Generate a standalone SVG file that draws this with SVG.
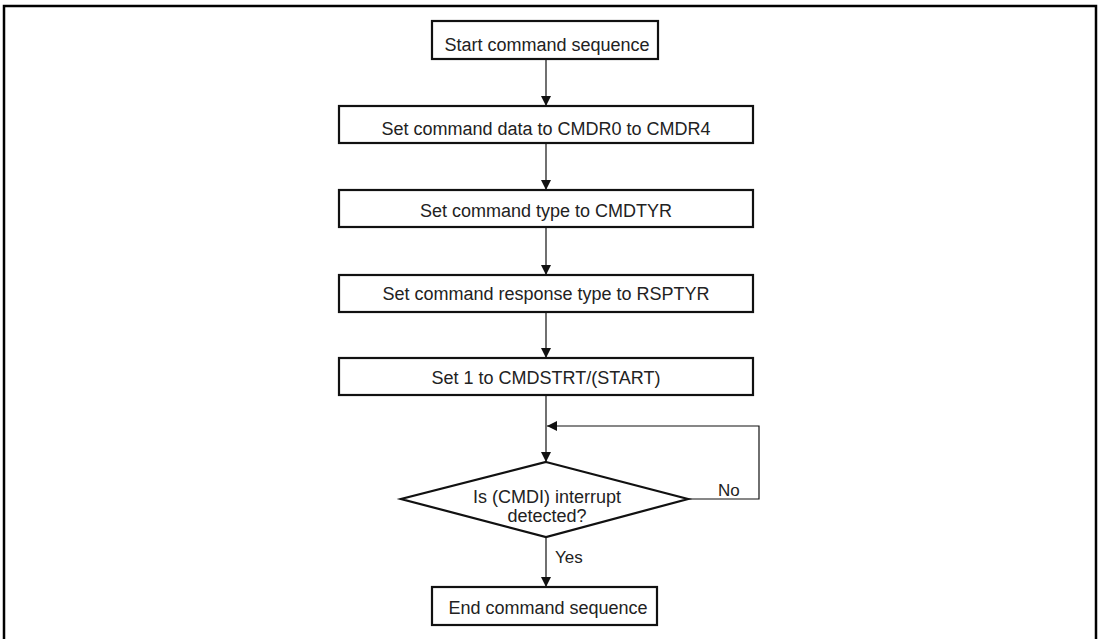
<svg xmlns="http://www.w3.org/2000/svg" width="1100" height="639" viewBox="0 0 1100 639">
<style>
.box{fill:#fff;stroke:#111;stroke-width:2.2}
.t{font-family:"Liberation Sans",Arial,sans-serif;font-size:18px;fill:#222;text-anchor:middle}
.lbl{font-family:"Liberation Sans",Arial,sans-serif;font-size:17px;fill:#222}
.c{fill:none;stroke:#111;stroke-width:1.2}
</style>
<defs>
<marker id="ah" viewBox="0 0 10 10" refX="10" refY="5" markerWidth="10" markerHeight="10" markerUnits="userSpaceOnUse" orient="auto">
<path d="M0,0 L10,5 L0,10 Z" fill="#111"/>
</marker>
</defs>
<rect width="1100" height="639" fill="#fff"/>
<path d="M4,645 V6 H1096 V645" fill="none" stroke="#000" stroke-width="2.5"/>
<g id="connectors">
<line class="c" x1="546" y1="59" x2="546" y2="106" marker-end="url(#ah)"/>
<line class="c" x1="546" y1="143" x2="546" y2="190" marker-end="url(#ah)"/>
<line class="c" x1="546" y1="227" x2="546" y2="275" marker-end="url(#ah)"/>
<line class="c" x1="546" y1="312" x2="546" y2="358" marker-end="url(#ah)"/>
<line class="c" x1="546" y1="395" x2="546" y2="462" marker-end="url(#ah)"/>
<polyline class="c" points="688,499 759,499 759,426 547,426" marker-end="url(#ah)"/>
<line class="c" x1="546" y1="537" x2="546" y2="587" marker-end="url(#ah)"/>
<text class="lbl" x="718" y="496">No</text>
<text class="lbl" x="555" y="563">Yes</text>
</g>
<g id="start">
<rect class="box" x="432" y="21" width="226" height="38"/>
<text class="t" x="547" y="51">Start command sequence</text>
</g>
<g id="set-data">
<rect class="box" x="339" y="106" width="414" height="37"/>
<text class="t" x="546" y="135">Set command data to CMDR0 to CMDR4</text>
</g>
<g id="set-type">
<rect class="box" x="339" y="190" width="414" height="37"/>
<text class="t" x="546" y="216.5">Set command type to CMDTYR</text>
</g>
<g id="set-resp">
<rect class="box" x="339" y="275" width="414" height="37"/>
<text class="t" x="546" y="300">Set command response type to RSPTYR</text>
</g>
<g id="set-start">
<rect class="box" x="339" y="358" width="414" height="37"/>
<text class="t" x="546" y="383.5">Set 1 to CMDSTRT/(START)</text>
</g>
<g id="decision">
<polygon class="box" points="546,462 688,499 546,537 401,499"/>
<text class="t" x="547" y="502.5">Is (CMDI) interrupt</text>
<text class="t" x="547" y="522">detected?</text>
</g>
<g id="end">
<rect class="box" x="432" y="587" width="225" height="38"/>
<text class="t" x="548" y="614">End command sequence</text>
</g>
</svg>
